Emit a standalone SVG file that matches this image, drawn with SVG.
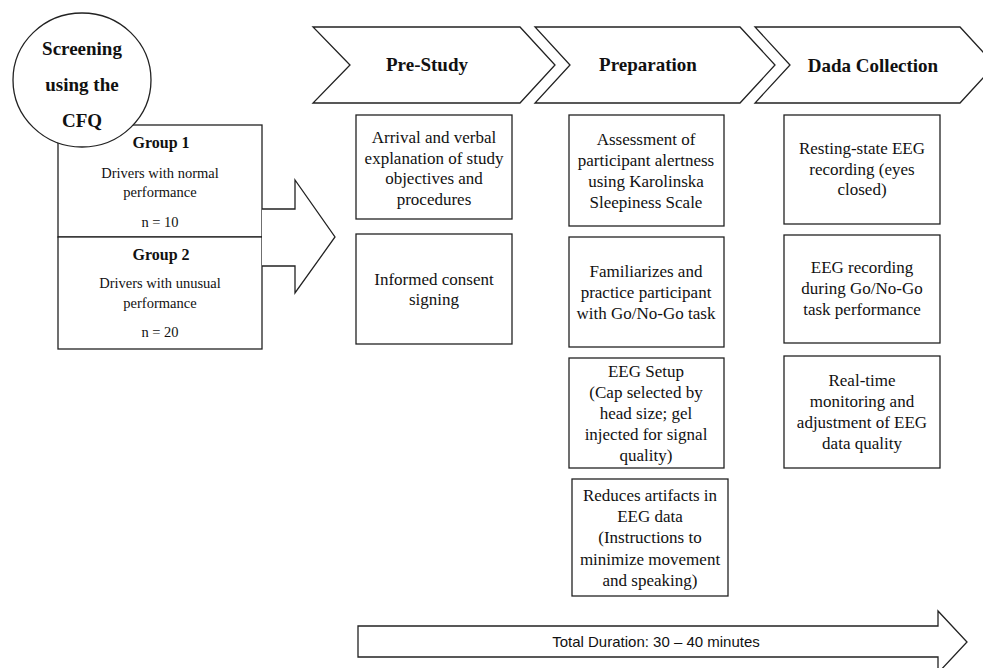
<svg xmlns="http://www.w3.org/2000/svg" width="983" height="668" viewBox="0 0 983 668">
<style>
.sh{fill:#fff;stroke:#222;stroke-width:1.3}
.t{font-family:"Liberation Serif","Times New Roman",serif;font-size:17px;fill:#111;text-anchor:middle}
.g{font-family:"Liberation Serif","Times New Roman",serif;font-size:14.5px;fill:#111;text-anchor:middle}
.gb{font-family:"Liberation Serif","Times New Roman",serif;font-size:16px;font-weight:bold;fill:#111;text-anchor:middle}
.h{font-family:"Liberation Serif","Times New Roman",serif;font-size:19px;font-weight:bold;fill:#111;text-anchor:middle}
.s{font-family:"Liberation Sans",Arial,sans-serif;font-size:15px;fill:#111;text-anchor:middle}
</style>
<rect width="983" height="668" fill="#fff"/>

<g id="group1">
<rect class="sh" x="58" y="125" width="204" height="112"/>
<text class="gb" x="161" y="148">Group 1</text>
<text class="g" x="160" y="178">Drivers with normal</text>
<text class="g" x="160" y="197">performance</text>
<text class="g" x="160" y="227">n = 10</text>
</g>
<g id="group2">
<rect class="sh" x="58" y="237" width="204" height="112"/>
<text class="gb" x="161" y="260">Group 2</text>
<text class="g" x="160" y="288">Drivers with unusual</text>
<text class="g" x="160" y="308">performance</text>
<text class="g" x="160" y="337">n = 20</text>
</g>
<g id="screening">
<ellipse class="sh" cx="82" cy="80" rx="69" ry="67"/>
<text class="h" x="82" y="55">Screening</text>
<text class="h" x="82" y="91">using the</text>
<text class="h" x="82" y="127">CFQ</text>
</g>

<g id="connectors">
<path class="sh" d="M262,209 L295,209 L295,180 L335,237 L295,293 L295,266 L262,266"/>
<path class="sh" d="M358,626 L938,626 L938,611 L967,642 L938,673 L938,657 L358,657 Z"/>
</g>
<text class="s" x="656" y="647">Total Duration: 30 – 40 minutes</text>

<g id="pre-study">
<path class="sh" d="M313,27 L520,27 L555,65 L520,103 L313,103 L350,65 Z"/>
<text class="h" x="427" y="71">Pre-Study</text>
</g>
<g id="preparation">
<path class="sh" d="M535,27 L740,27 L775,65 L740,103 L535,103 L570,65 Z"/>
<text class="h" x="648" y="71">Preparation</text>
</g>
<g id="data-collection">
<path class="sh" d="M755,27 L960,27 L995,65 L960,103 L755,103 L790,65 Z"/>
<text class="h" x="873" y="72">Dada Collection</text>
</g>

<g id="ps1">
<rect class="sh" x="356" y="115" width="156" height="104"/>
<text class="t" x="434" y="143">Arrival and verbal</text>
<text class="t" x="434" y="164">explanation of study</text>
<text class="t" x="434" y="184">objectives and</text>
<text class="t" x="434" y="205">procedures</text>
</g>
<g id="ps2">
<rect class="sh" x="356" y="234" width="156" height="110"/>
<text class="t" x="434" y="285">Informed consent</text>
<text class="t" x="434" y="305">signing</text>
</g>

<g id="pr1">
<rect class="sh" x="569" y="115" width="155" height="111"/>
<text class="t" x="646" y="145">Assessment of</text>
<text class="t" x="646" y="166">participant alertness</text>
<text class="t" x="646" y="187">using Karolinska</text>
<text class="t" x="646" y="208">Sleepiness Scale</text>
</g>
<g id="pr2">
<rect class="sh" x="569" y="237" width="155" height="110"/>
<text class="t" x="646" y="277">Familiarizes and</text>
<text class="t" x="646" y="298">practice  participant</text>
<text class="t" x="646" y="319">with Go/No-Go task</text>
</g>
<g id="pr3">
<rect class="sh" x="569" y="358" width="155" height="110"/>
<text class="t" x="646" y="377">EEG Setup</text>
<text class="t" x="646" y="398">(Cap selected by</text>
<text class="t" x="646" y="419">head size; gel</text>
<text class="t" x="646" y="440">injected for signal</text>
<text class="t" x="646" y="461">quality)</text>
</g>
<g id="pr4">
<rect class="sh" x="572" y="479" width="156" height="117"/>
<text class="t" x="650" y="501">Reduces artifacts in</text>
<text class="t" x="650" y="522">EEG data</text>
<text class="t" x="650" y="543">(Instructions to</text>
<text class="t" x="650" y="565">minimize movement</text>
<text class="t" x="650" y="586">and speaking)</text>
</g>

<g id="dc1">
<rect class="sh" x="784" y="115" width="156" height="109"/>
<text class="t" x="862" y="154">Resting-state EEG</text>
<text class="t" x="862" y="175">recording (eyes</text>
<text class="t" x="862" y="195">closed)</text>
</g>
<g id="dc2">
<rect class="sh" x="784" y="235" width="156" height="108"/>
<text class="t" x="862" y="273">EEG recording</text>
<text class="t" x="862" y="294">during Go/No-Go</text>
<text class="t" x="862" y="315">task performance</text>
</g>
<g id="dc3">
<rect class="sh" x="784" y="356" width="156" height="112"/>
<text class="t" x="862" y="386">Real-time</text>
<text class="t" x="862" y="407">monitoring and</text>
<text class="t" x="862" y="428">adjustment of EEG</text>
<text class="t" x="862" y="449">data quality</text>
</g>
</svg>
